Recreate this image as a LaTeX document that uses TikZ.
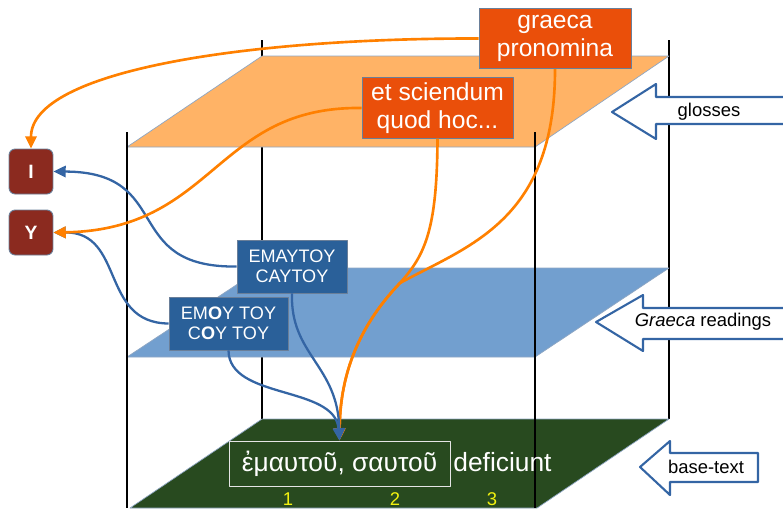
\documentclass[tikz,border=0pt]{standalone}
\usepackage{fontspec}
\setmainfont{Liberation Sans}
\usetikzlibrary{arrows.meta}
\definecolor{glossplane}{HTML}{FFB366}
\definecolor{readplane}{HTML}{729FCF}
\definecolor{baseplane}{HTML}{284A1F}
\definecolor{planeedge}{HTML}{8FA7C4}
\definecolor{glossred}{HTML}{EA4F0A}
\definecolor{readblue}{HTML}{2A6099}
\definecolor{letterred}{HTML}{8B2A1F}
\definecolor{boxedge}{HTML}{6A7F99}
\definecolor{linkorange}{HTML}{FF8000}
\definecolor{linkblue}{HTML}{3465A4}
\definecolor{numyellow}{HTML}{F2F20F}

\begin{document}
\begin{tikzpicture}[x=0.02cm, y=-0.02cm, line join=round]
		\tikzstyle{every node}=[align=center, inner sep=0pt]
		\tikzstyle{post}=[line width=1.2pt, black]
		\tikzstyle{plane}=[draw=planeedge, line width=0.4pt]
		\tikzstyle{layerarrow}=[draw=linkblue, line width=1.2pt, fill=white]
		\tikzstyle{glossbox}=[draw=boxedge, line width=0.5pt, fill=glossred, text=white, font=\fontsize{14}{16}\selectfont, minimum height=1.21cm]
		\tikzstyle{readbox}=[draw=boxedge, line width=0.5pt, fill=readblue, text=white, font=\fontsize{10.3}{11.5}\selectfont, minimum height=1.06cm]
		\tikzstyle{letter}=[draw=boxedge, line width=0.5pt, rounded corners=3.5pt, fill=letterred, text=white, font=\bfseries\fontsize{11}{13}\selectfont, minimum width=0.88cm, minimum height=0.9cm]
		\tikzstyle{orangelink}=[draw=linkorange, line width=1.5pt, -{Triangle[length=7pt, width=6.5pt]}]
		\tikzstyle{bluelink}=[draw=linkblue, line width=1.3pt, -{Triangle[length=7pt, width=6.5pt]}]

			\useasboundingbox (0,0) rectangle (783,508);

			% back posts
			\draw[post] (262,40) -- (262,508);
			\draw[post] (669,40) -- (669,419);

			% the three layers
			\filldraw[plane, fill=glossplane] (262,56) -- (669,56) -- (535,147) -- (127,147) -- cycle;
			\filldraw[plane, fill=readplane] (262,268) -- (669,268) -- (535,357) -- (127,357) -- cycle;
			\filldraw[plane, fill=baseplane] (262,419) -- (669,419) -- (537,508) -- (130,508) -- cycle;

			% front posts
			\draw[post] (127,132) -- (127,508);
			\draw[post] (535,132) -- (535,508);

			% layer arrows
			\filldraw[layerarrow] (786,97) -- (656,97) -- (656,84) -- (612,112) -- (656,139) -- (656,124) -- (786,124);
			\filldraw[layerarrow] (786,308) -- (643,308) -- (643,295) -- (596,322) -- (643,351) -- (643,339) -- (786,339);
			\filldraw[layerarrow] (758,453) -- (670,453) -- (670,441) -- (640,467) -- (670,495) -- (670,482) -- (758,482) -- cycle;
			\node[font=\fontsize{10.5}{12}\selectfont] (glosses) at (709,112) {glosses};
			\node[font=\fontsize{10.5}{12}\selectfont] (readings) at (703,322) {\textit{Graeca} readings};
			\node[font=\fontsize{10.5}{12}\selectfont] (basetext) at (706,467) {base-text};

			% base text
			\node[draw=white!80!gray, line width=0.5pt, text=white, font=\fontsize{15}{18}\selectfont, minimum width=4.42cm, minimum height=0.9cm] (words) at (339.5,463.5) {ἐμαυτοῦ, σαυτοῦ};
			\node[anchor=base west, text=white, font=\fontsize{15}{18}\selectfont] (deficiunt) at ([xshift=1.5pt]words.base east) {deficiunt};
			\node[text=numyellow, font=\fontsize{10.5}{12}\selectfont] (n1) at (288,499) {1};
			\node[text=numyellow, font=\fontsize{10.5}{12}\selectfont] (n2) at (395,499) {2};
			\node[text=numyellow, font=\fontsize{10.5}{12}\selectfont] (n3) at (492,499) {3};

			% boxes
			\node[glossbox, minimum width=3.04cm] (pronomina) at (555,38.5) {graeca\\pronomina};
			\node[glossbox, minimum width=3.02cm] (sciendum) at (437.5,108) {et sciendum\\quod hoc...};
			\node[readbox, minimum width=2.2cm] (emautou) at (292,266.5) {EMAYTOY\\CAYTOY};
			\node[readbox, minimum width=2.38cm] (emou) at (228.5,323.5) {EM\textbf{O}Y TOY\\C\textbf{O}Y TOY};
			\node[letter] (I) at (31,171.5) {I};
			\node[letter] (Y) at (31,232.5) {Y};

			% links
			\coordinate (merge) at (400,283);
			\draw[bluelink] (emautou.west) .. controls (120,268) and (175,172) .. (I.east);
			\draw[bluelink] (emou.west) .. controls (100,323) and (125,232) .. (Y.east);
			\draw[orangelink] (pronomina.west) .. controls (250,38) and (31,70) .. (I.north);
			\draw[orangelink] (sciendum.west) .. controls (215,106) and (215,230) .. (Y.east);
			\draw[orangelink] (pronomina.south) .. controls (555,220) and (470,245) .. (merge) .. controls (355,330) and (340,380) .. (words.north);
			\draw[orangelink] (sciendum.south) .. controls (437,230) and (425,255) .. (merge) .. controls (355,330) and (340,380) .. (words.north);
			\draw[bluelink] (emautou.south) .. controls (290,355) and (338,365) .. (words.north);
			\draw[bluelink] (emou.south) .. controls (229,400) and (335,385) .. (words.north);
		\end{tikzpicture}
\end{document}
